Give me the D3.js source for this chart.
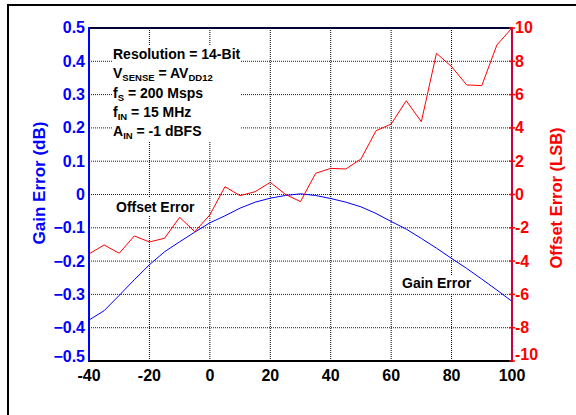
<!DOCTYPE html>
<html>
<head>
<meta charset="utf-8">
<script src="https://cdn.jsdelivr.net/npm/d3@7"></script>
<style>
  html, body { margin: 0; padding: 0; background: #fff; }
  svg { display: block; font-family: "Liberation Sans", Arial, sans-serif; font-weight: bold; }
</style>
</head>
<body>
<svg id="chart" width="576" height="415"></svg>
<script>
// ---- data ----
const temperature = [-40,-35,-30,-25,-20,-15,-10,-5,0,5,10,15,20,25,30,35,40,45,50,55,60,65,70,75,80,85,90,95,100];
const gainError = [-0.377,-0.349,-0.303,-0.256,-0.211,-0.172,-0.142,-0.113,-0.085,-0.064,-0.041,-0.023,-0.011,-0.003,0.002,-0.003,-0.012,-0.023,-0.037,-0.057,-0.081,-0.104,-0.132,-0.161,-0.192,-0.222,-0.254,-0.287,-0.321];
const offsetError = [-3.57,-3.03,-3.53,-2.49,-2.85,-2.63,-1.37,-2.23,-1.23,0.47,-0.07,0.17,0.73,0.01,-0.43,1.27,1.57,1.53,2.13,3.83,4.23,5.63,4.37,8.48,7.68,6.58,6.54,8.98,10.0];
const xTicks = [-40,-20,0,20,40,60,80,100];
const leftTicks = [0.5,0.4,0.3,0.2,0.1,0,-0.1,-0.2,-0.3,-0.4,-0.5];
const rightTicks = [10,8,6,4,2,0,-2,-4,-6,-8,-10];
const leftTitle = "Gain Error (dB)";
const rightTitle = "Offset Error (LSB)";

const svg = d3.select("#chart");
const L = 89, R = 512, T = 28, B = 361;

const x = d3.scaleLinear().domain([-40, 100]).range([L, R]);
const yL = d3.scaleLinear().domain([-0.5, 0.5]).range([B, T]);
const yR = d3.scaleLinear().domain([-10, 10]).range([B, T]);

// outer frame
svg.append("rect").attr("x", 8).attr("y", 5).attr("width", 600).attr("height", 440)
  .attr("fill", "none").attr("stroke", "#000").attr("stroke-width", 2);

// grid
const g = svg.append("g");
g.selectAll(".hg").data(leftTicks.filter(v => Math.abs(v) < 0.45)).join("line")
  .attr("x1", L).attr("x2", R)
  .attr("y1", d => yL(d)).attr("y2", d => yL(d))
  .attr("stroke", "#0000ff").attr("stroke-width", 1).attr("stroke-dasharray", "1,1");
g.selectAll(".vg").data(xTicks.filter(v => v > -40 && v < 100)).join("line")
  .attr("x1", d => x(d)).attr("x2", d => x(d))
  .attr("y1", T).attr("y2", B)
  .attr("stroke", "#000").attr("stroke-width", 1).attr("stroke-dasharray", "1,1");

// white boxes behind annotations
svg.append("rect").attr("x", 112).attr("y", 45).attr("width", 129).attr("height", 96).attr("fill", "#fff");
svg.append("rect").attr("x", 113).attr("y", 198).attr("width", 86).attr("height", 18).attr("fill", "#fff");
svg.append("rect").attr("x", 399).attr("y", 275).attr("width", 75).attr("height", 18).attr("fill", "#fff");

// lines
const lineG = d3.line().x((d, i) => x(temperature[i])).y(d => yL(d));
const lineO = d3.line().x((d, i) => x(temperature[i])).y(d => yR(d));
svg.append("path").datum(gainError).attr("d", lineG)
  .attr("fill", "none").attr("stroke", "#0000ff").attr("stroke-width", 1);
svg.append("path").datum(offsetError).attr("d", lineO)
  .attr("fill", "none").attr("stroke", "#ff0000").attr("stroke-width", 1);

// frame lines
svg.append("line").attr("x1", L).attr("x2", R).attr("y1", T).attr("y2", T)
  .attr("stroke", "#000033").attr("stroke-width", 2);
svg.append("line").attr("x1", L - 1).attr("x2", R + 1).attr("y1", B).attr("y2", B)
  .attr("stroke", "#000").attr("stroke-width", 2);
svg.append("line").attr("x1", L).attr("x2", L).attr("y1", T - 1).attr("y2", B)
  .attr("stroke", "#0000ff").attr("stroke-width", 2);
svg.append("line").attr("x1", R).attr("x2", R).attr("y1", T - 1).attr("y2", B)
  .attr("stroke", "#c8003c").attr("stroke-width", 2);

// right ticks
svg.selectAll(".rt").data(rightTicks).join("line")
  .attr("x1", R - 3).attr("x2", R + 3)
  .attr("y1", d => yR(d)).attr("y2", d => yR(d))
  .attr("stroke", "#ff0000").attr("stroke-width", 1.5);

// tick labels
svg.selectAll(".lt").data(leftTicks).join("text")
  .attr("x", 85).attr("y", d => Math.min(yL(d), 357)).attr("dy", "0.34em")
  .attr("text-anchor", "end").attr("font-size", 16).attr("fill", "#0000ff")
  .text(d => d === 0 ? "0" : d3.format(".1f")(d));
svg.selectAll(".rtl").data(rightTicks).join("text")
  .attr("x", 515).attr("y", d => Math.min(yR(d), 355)).attr("dy", "0.34em")
  .attr("text-anchor", "start").attr("font-size", 16).attr("fill", "#ff0000")
  .text(d => d);
svg.selectAll(".xt").data(xTicks).join("text")
  .attr("x", d => x(d)).attr("y", 381)
  .attr("text-anchor", "middle").attr("font-size", 16).attr("fill", "#000")
  .text(d => d);

// axis titles
svg.append("text").attr("transform", `translate(45,183) rotate(-90)`)
  .attr("text-anchor", "middle").attr("font-size", 17).attr("fill", "#0000ff").text(leftTitle);
svg.append("text").attr("transform", `translate(562,198) rotate(-90)`)
  .attr("text-anchor", "middle").attr("font-size", 16.5).attr("fill", "#ff0000").text(rightTitle);

// annotation block
const ann = svg.append("g").attr("font-size", 14).attr("fill", "#000");
function addLine(y, parts) {
  const t = ann.append("text").attr("x", 113).attr("y", y);
  parts.forEach(p => {
    const ts = t.append("tspan").text(p[0]);
    if (p[1] === "sub") ts.attr("font-size", 9.5).attr("dy", 3);
    else if (p[1] === "up") ts.attr("dy", -3);
  });
}
addLine(59, [["Resolution = 14-Bit"]]);
addLine(78, [["V"], ["SENSE", "sub"], [" = AV", "up"], ["DD12", "sub"]]);
addLine(98, [["f"], ["S", "sub"], [" = 200 Msps", "up"]]);
addLine(117, [["f"], ["IN", "sub"], [" = 15 MHz", "up"]]);
addLine(136, [["A"], ["IN", "sub"], [" = -1 dBFS", "up"]]);

svg.append("text").attr("x", 116).attr("y", 212).attr("font-size", 14).text("Offset Error");
svg.append("text").attr("x", 402).attr("y", 288).attr("font-size", 14).text("Gain Error");
</script>
</body>
</html>
